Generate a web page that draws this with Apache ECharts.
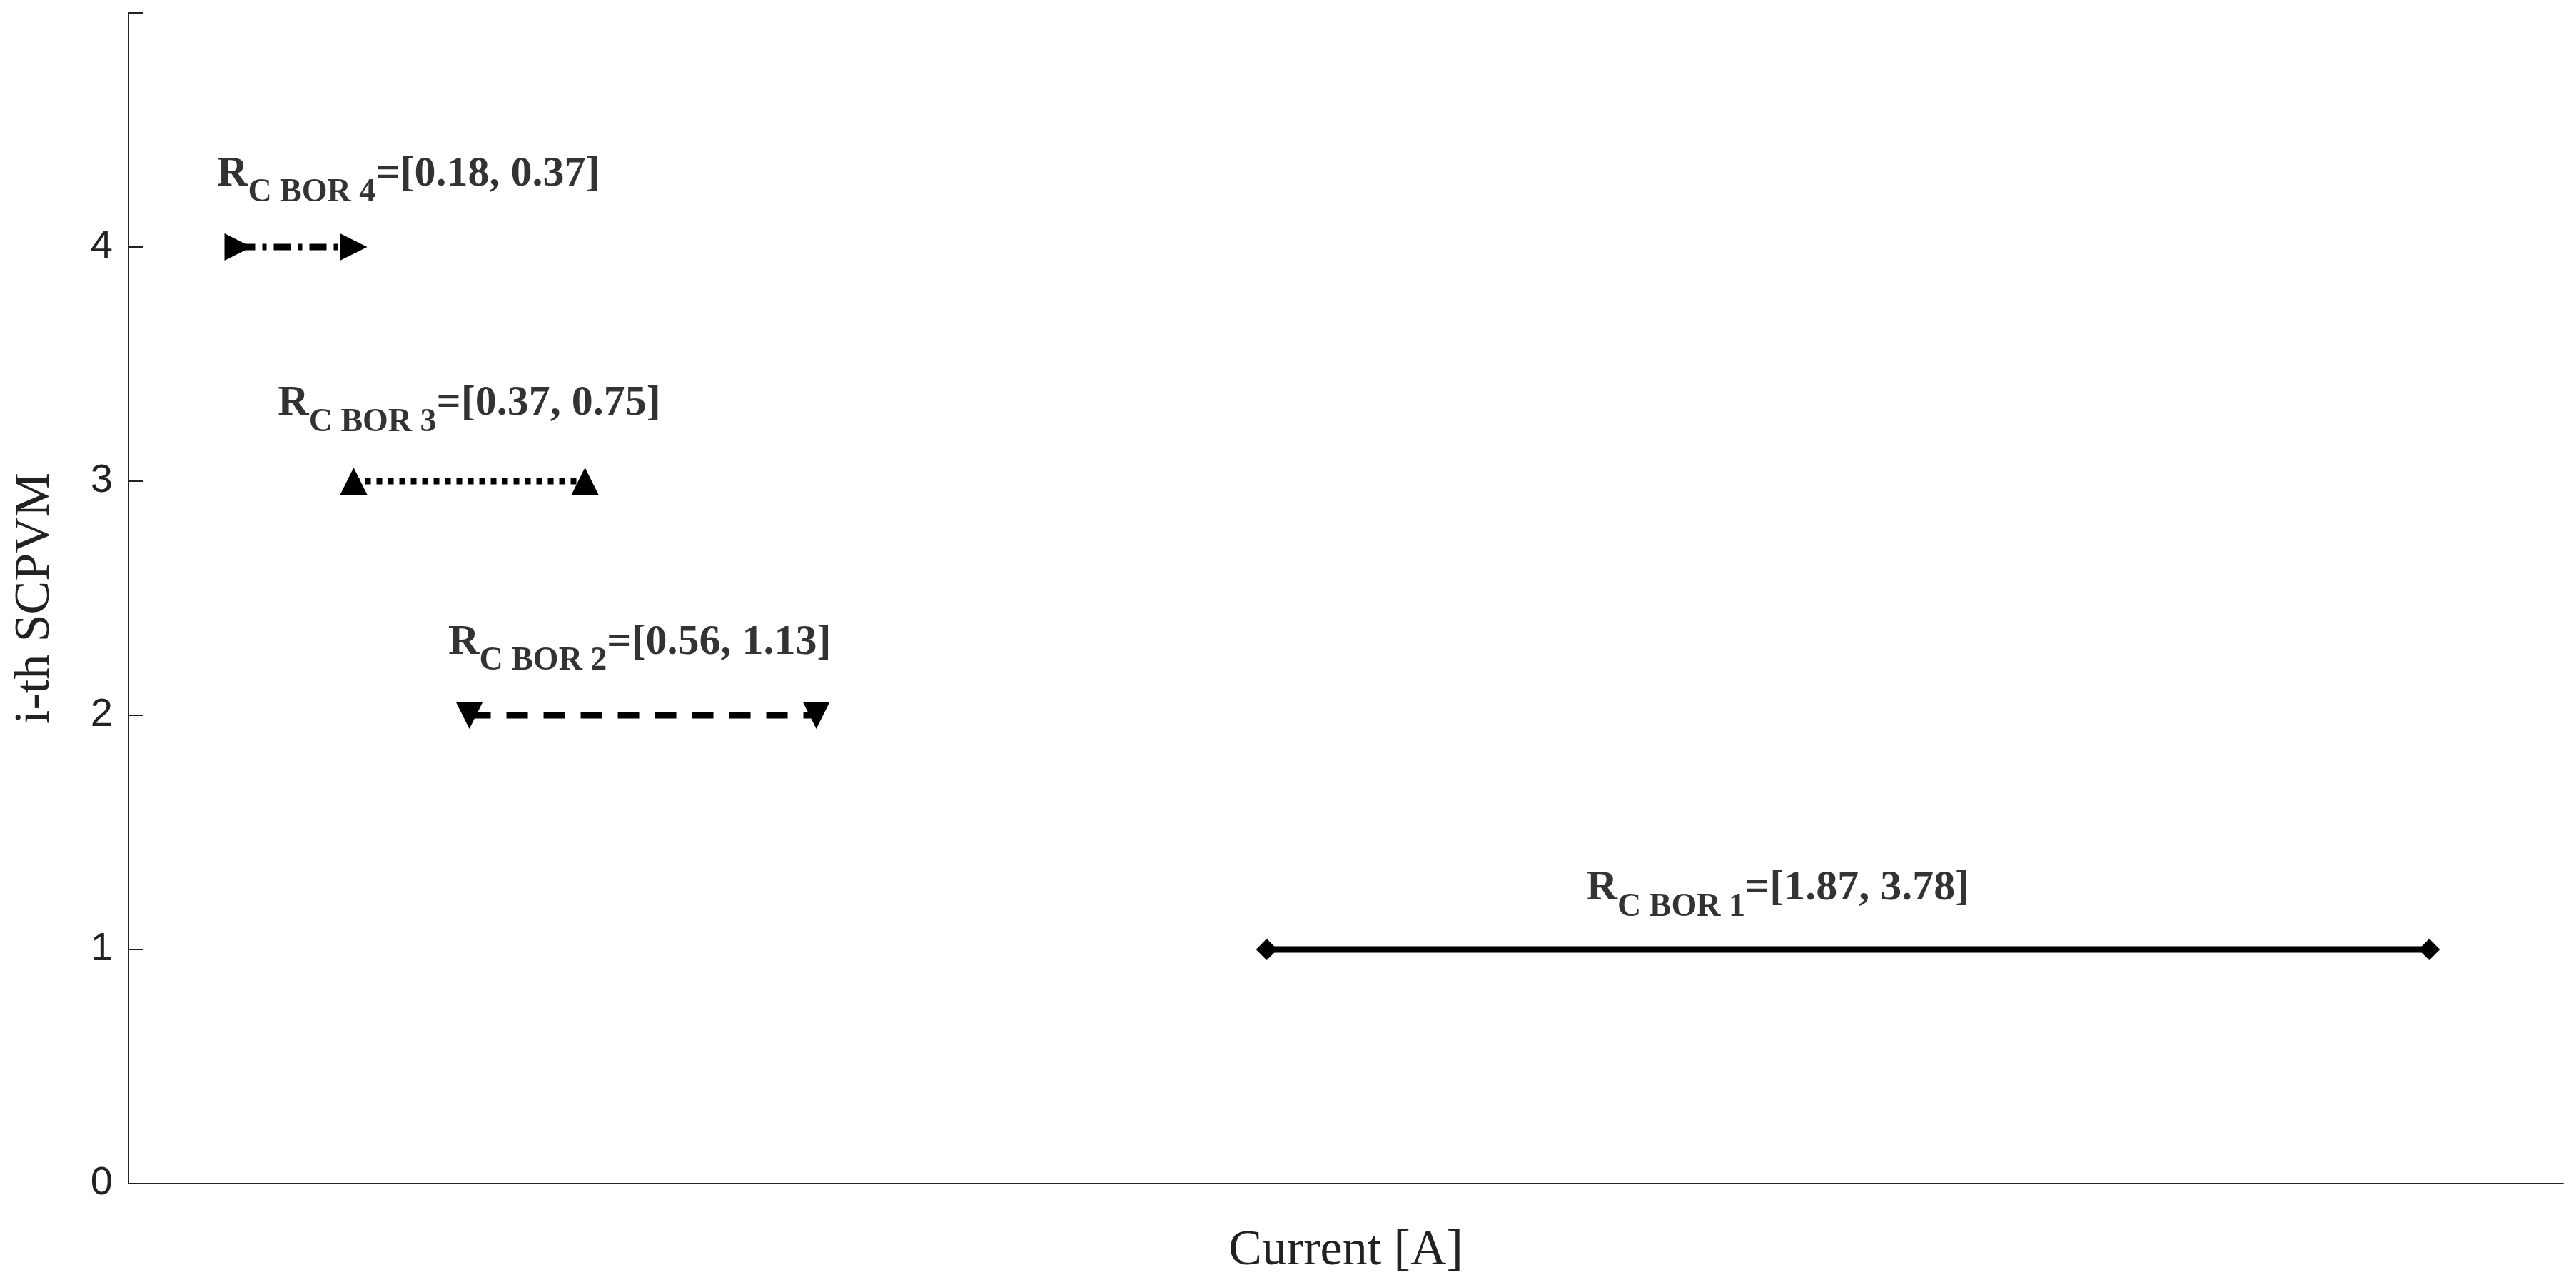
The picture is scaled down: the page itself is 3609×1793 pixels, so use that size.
<!DOCTYPE html>
<html><head><meta charset="utf-8">
<script src="https://cdn.jsdelivr.net/npm/echarts@6/dist/echarts.min.js"></script>
<style>html,body{margin:0;background:#fff}#c{width:3609px;height:1793px}</style>
</head><body><div id="c"></div>
<script>
// interval data, one row per SCPVM
const rows = [1, 2, 3, 4];
const lows = [1.87, 0.56, 0.37, 0.18];
const highs = [3.78, 1.13, 0.75, 0.37];
const symbols = ['diamond', 'triangle', 'triangle', 'triangle'];
const rotations = [0, 180, 0, -90];
const dashes = ['solid', [30, 22], [8, 8], [24, 10, 6, 10]];
// label anchor points (centre of text)
const labelX = [2.71, 0.84, 0.56, 0.46];
const labelY = [1.22, 2.27, 3.29, 4.27];

let chart = echarts.init(document.getElementById('c'));
const serif = 'Liberation Serif';

let series = rows.map((r, i) => ({
    type: 'line',
    data: [[lows[i], r], [highs[i], r]],
    symbol: symbols[i],
    symbolRotate: rotations[i],
    symbolSize: i === 0 ? 30 : 38,
    showAllSymbol: true,
    itemStyle: {color: '#000'},
    lineStyle: {color: '#000', width: 9, type: dashes[i]},
    z: 3
}));

series.push({
    type: 'scatter',
    symbolSize: 0,
    data: rows.map((r, i) => [labelX[i], labelY[i], r]),
    label: {
        show: true,
        position: 'inside',
        formatter: p => '{b|R}{s|C BOR ' + p.value[2] + '}{b|=[' + lows[p.dataIndex].toFixed(2) + ', ' + highs[p.dataIndex].toFixed(2) + ']}',
        rich: {
            b: {fontFamily: serif, fontWeight: 'bold', fontSize: 60, color: '#000', padding: [0, 0, 26, 0]},
            s: {fontFamily: serif, fontWeight: 'bold', fontSize: 46, color: '#000', padding: [26, 0, 0, 0]}
        }
    }
});

chart.setOption({
    animation: false,
    grid: {left: 180, right: 18, top: 18, bottom: 130},
    xAxis: {
        type: 'value', min: 0, max: 4,
        name: 'Current [A]', nameLocation: 'middle', nameGap: 60,
        nameTextStyle: {fontFamily: serif, fontSize: 70, color: '#222'},
        axisLine: {lineStyle: {color: '#222', width: 2}},
        axisTick: {show: false}, axisLabel: {show: false}, splitLine: {show: false}
    },
    yAxis: {
        type: 'value', min: 0, max: 5, interval: 1,
        name: 'i-th SCPVM', nameLocation: 'middle', nameGap: 95,
        nameTextStyle: {fontFamily: serif, fontSize: 70, color: '#222'},
        axisLine: {show: true, lineStyle: {color: '#222', width: 2}},
        axisTick: {show: true, inside: true, length: 20, lineStyle: {color: '#222', width: 2}},
        axisLabel: {fontFamily: 'Liberation Sans', fontSize: 56, color: '#222', margin: 22,
            formatter: v => v === 5 ? '' : v},
        splitLine: {show: false}
    },
    series: series
});
</script></body></html>
